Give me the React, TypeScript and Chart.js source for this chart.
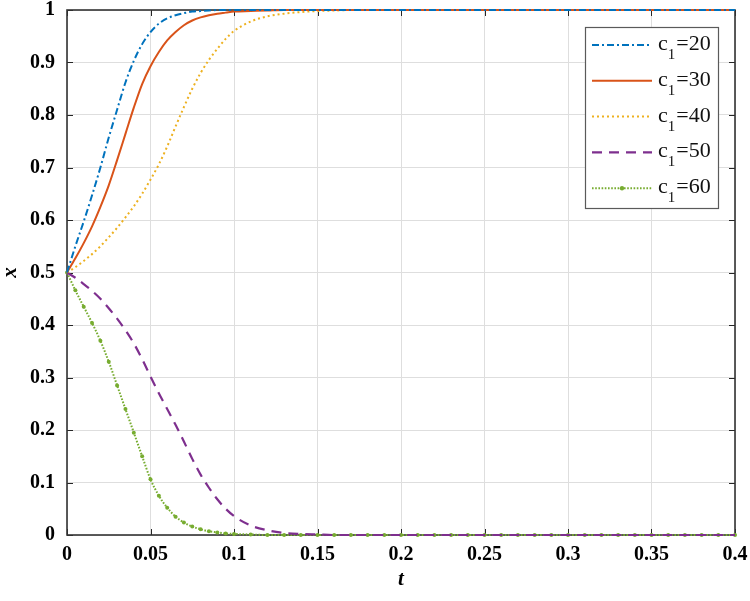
import React, { useEffect, useRef } from "react";
import { Chart, registerables } from "chart.js";
Chart.register(...registerables);

// time grid (t)
const T = [
  0, 0.005, 0.01, 0.015, 0.02, 0.025, 0.03, 0.035, 0.04, 0.045, 0.05,
  0.055, 0.06, 0.065, 0.07, 0.075, 0.08, 0.085, 0.09, 0.095, 0.1,
  0.11, 0.12, 0.13, 0.14, 0.15, 0.16, 0.17, 0.18, 0.19, 0.2,
  0.21, 0.22, 0.23, 0.24, 0.25, 0.26, 0.27, 0.28, 0.29, 0.3,
  0.31, 0.32, 0.33, 0.34, 0.35, 0.36, 0.37, 0.38, 0.39, 0.4,
];

const C20 = [
  0.5, 0.55, 0.597, 0.647, 0.7, 0.757, 0.81, 0.862, 0.903, 0.935, 0.958,
  0.974, 0.984, 0.99, 0.994, 0.997, 0.998, 0.999, 1, 1, 1,
  1, 1, 1, 1, 1, 1, 1, 1, 1, 1,
  1, 1, 1, 1, 1, 1, 1, 1, 1, 1,
  1, 1, 1, 1, 1, 1, 1, 1, 1, 1,
];
const C30 = [
  0.5, 0.527, 0.556, 0.588, 0.625, 0.666, 0.714, 0.764, 0.814, 0.859, 0.893,
  0.92, 0.942, 0.958, 0.971, 0.98, 0.986, 0.99, 0.993, 0.995, 0.997,
  0.998, 0.999, 1, 1, 1, 1, 1, 1, 1, 1,
  1, 1, 1, 1, 1, 1, 1, 1, 1, 1,
  1, 1, 1, 1, 1, 1, 1, 1, 1, 1,
];
const C40 = [
  0.5, 0.51, 0.522, 0.535, 0.55, 0.567, 0.585, 0.605, 0.626, 0.65, 0.677,
  0.706, 0.74, 0.778, 0.815, 0.85, 0.88, 0.905, 0.926, 0.945, 0.96,
  0.978, 0.988, 0.993, 0.996, 0.998, 0.999, 1, 1, 1, 1,
  1, 1, 1, 1, 1, 1, 1, 1, 1, 1,
  1, 1, 1, 1, 1, 1, 1, 1, 1, 1,
];
const C50 = [
  0.5, 0.49, 0.478, 0.465, 0.45, 0.432, 0.412, 0.39, 0.365, 0.335, 0.302,
  0.27, 0.24, 0.21, 0.178, 0.145, 0.115, 0.09, 0.068, 0.05, 0.036,
  0.018, 0.009, 0.004, 0.002, 0.001, 0, 0, 0, 0, 0,
  0, 0, 0, 0, 0, 0, 0, 0, 0, 0,
  0, 0, 0, 0, 0, 0, 0, 0, 0, 0,
];
const C60 = [
  0.5, 0.466, 0.435, 0.404, 0.37, 0.33, 0.285, 0.24, 0.195, 0.15, 0.106,
  0.075, 0.052, 0.035, 0.024, 0.016, 0.011, 0.007, 0.005, 0.003, 0.002,
  0.001, 0, 0, 0, 0, 0, 0, 0, 0, 0,
  0, 0, 0, 0, 0, 0, 0, 0, 0, 0,
  0, 0, 0, 0, 0, 0, 0, 0, 0, 0,
];

const C1_VALUES = ["20", "30", "40", "50", "60"];
const X_TICKS = [0, 0.05, 0.1, 0.15, 0.2, 0.25, 0.3, 0.35, 0.4];
const X_TICK_LABELS = ["0", "0.05", "0.1", "0.15", "0.2", "0.25", "0.3", "0.35", "0.4"];
const Y_TICKS = [0, 0.1, 0.2, 0.3, 0.4, 0.5, 0.6, 0.7, 0.8, 0.9, 1];
const Y_TICK_LABELS = ["0", "0.1", "0.2", "0.3", "0.4", "0.5", "0.6", "0.7", "0.8", "0.9", "1"];

const SERIES = [C20, C30, C40, C50, C60];
const COLORS = ["#0072BD", "#D95319", "#EDB120", "#7E2F8E", "#77AC30"];
const DASHES = [[7, 3, 2, 3], [], [2, 3], [10, 7], [1.6, 1.6]];
const WIDTHS = [2, 2, 2, 2.2, 2];

const SERIF = "'Liberation Serif', 'Times New Roman', serif";

const framePlugin = {
  id: "frame",
  beforeDatasetsDraw(chart: any) {
    const { ctx, chartArea: a, scales } = chart;
    ctx.save();
    ctx.strokeStyle = "#262626";
    ctx.lineWidth = 1;
    const tl = 6;
    ctx.beginPath();
    X_TICKS.forEach((v) => {
      const x = Math.round(scales.x.getPixelForValue(v)) + 0.5;
      ctx.moveTo(x, a.bottom);
      ctx.lineTo(x, a.bottom - tl);
      ctx.moveTo(x, a.top);
      ctx.lineTo(x, a.top + tl);
    });
    Y_TICKS.forEach((v) => {
      const y = Math.round(scales.y.getPixelForValue(v)) + 0.5;
      ctx.moveTo(a.left, y);
      ctx.lineTo(a.left + tl, y);
      ctx.moveTo(a.right, y);
      ctx.lineTo(a.right - tl, y);
    });
    ctx.stroke();
    ctx.strokeStyle = "#333333";
    ctx.lineWidth = 1.6;
    ctx.strokeRect(a.left, a.top, a.right - a.left, a.bottom - a.top);
    ctx.restore();
  },
  afterDraw(chart: any) {
    const { ctx } = chart;
    const bx = 585, by = 27, bw = 133, bh = 181;
    ctx.save();
    ctx.fillStyle = "#ffffff";
    ctx.fillRect(bx, by, bw, bh);
    ctx.strokeStyle = "#5a5a5a";
    ctx.lineWidth = 1.2;
    ctx.strokeRect(bx + 0.5, by + 0.5, bw, bh);
    chart.data.datasets.forEach((ds: any, i: number) => {
      const y = 45 + i * 35.8;
      ctx.save();
      ctx.strokeStyle = ds.borderColor;
      ctx.lineWidth = ds.borderWidth;
      ctx.setLineDash(ds.borderDash || []);
      ctx.beginPath();
      ctx.moveTo(592, y);
      ctx.lineTo(652, y);
      ctx.stroke();
      ctx.restore();
      if (ds.pointRadius > 0) {
        ctx.fillStyle = ds.borderColor;
        ctx.beginPath();
        ctx.arc(622, y, 2.2, 0, Math.PI * 2);
        ctx.fill();
      }
      ctx.fillStyle = "#111111";
      ctx.textBaseline = "alphabetic";
      ctx.textAlign = "left";
      ctx.font = `22px ${SERIF}`;
      let x = 658;
      ctx.fillText("c", x, y + 5);
      x += ctx.measureText("c").width;
      ctx.font = `15px ${SERIF}`;
      ctx.fillText("1", x, y + 14);
      x += ctx.measureText("1").width + 1;
      ctx.font = `22px ${SERIF}`;
      ctx.fillText("=" + C1_VALUES[i], x, y + 5);
    });
    ctx.restore();
  },
};

export default function App() {
  const ref = useRef<HTMLCanvasElement>(null);
  useEffect(() => {
    document.body.style.margin = "0";
    const datasets = SERIES.map((vals, i) => ({
      label: "c₁=" + C1_VALUES[i],
      data: T.map((t, j) => ({ x: t, y: vals[j] })),
      borderColor: COLORS[i],
      backgroundColor: COLORS[i],
      borderWidth: WIDTHS[i],
      borderDash: DASHES[i],
      pointRadius: i === 4 ? 2 : 0,
      pointBorderWidth: 0,
      pointBackgroundColor: COLORS[i],
      cubicInterpolationMode: "monotone",
      fill: false,
      clip: 4,
    }));
    const chart = new Chart(ref.current!, {
      type: "line",
      data: { datasets } as any,
      plugins: [framePlugin],
      options: {
        animation: false,
        responsive: false,
        layout: { padding: { top: 10, right: 15, left: 0, bottom: 0 } },
        plugins: { legend: { display: false }, tooltip: { enabled: false } },
        scales: {
          x: {
            type: "linear",
            min: 0,
            max: 0.4,
            afterBuildTicks: (s: any) => {
              s.ticks = X_TICKS.map((v) => ({ value: v }));
            },
            afterFit: (s: any) => {
              s.height = 66;
              s.paddingLeft = 0;
              s.paddingRight = 0;
            },
            ticks: {
              callback: (v: any) => X_TICK_LABELS[X_TICKS.indexOf(Number(v))] ?? "",
              font: { family: SERIF, size: 20, weight: "bold" },
              color: "#000000",
              padding: 8,
              maxRotation: 0,
              autoSkip: false,
            },
            grid: { color: "#dedede", lineWidth: 1, drawTicks: false },
            border: { display: false },
            title: {
              display: true,
              text: "t",
              font: { family: SERIF, size: 21, weight: "bold", style: "italic", lineHeight: 1 },
              color: "#000000",
              padding: { top: 0, bottom: 11 },
            },
          },
          y: {
            type: "linear",
            min: 0,
            max: 1,
            afterBuildTicks: (s: any) => {
              s.ticks = Y_TICKS.map((v) => ({ value: v }));
            },
            afterFit: (s: any) => {
              s.width = 67;
              s.paddingTop = 0;
              s.paddingBottom = 0;
            },
            ticks: {
              callback: (v: any) => Y_TICK_LABELS[Y_TICKS.indexOf(Number(v))] ?? "",
              font: { family: SERIF, size: 20, weight: "bold" },
              color: "#000000",
              padding: 12,
              autoSkip: false,
            },
            grid: { color: "#dedede", lineWidth: 1, drawTicks: false },
            border: { display: false },
            title: {
              display: true,
              text: "x",
              font: { family: SERIF, size: 21, weight: "bold", style: "italic", lineHeight: 1 },
              color: "#000000",
              padding: { top: 0, bottom: 0 },
            },
          },
        },
      } as any,
    });
    return () => chart.destroy();
  }, []);
  return <canvas ref={ref} width={750} height={601} style={{ display: "block" }} />;
}
